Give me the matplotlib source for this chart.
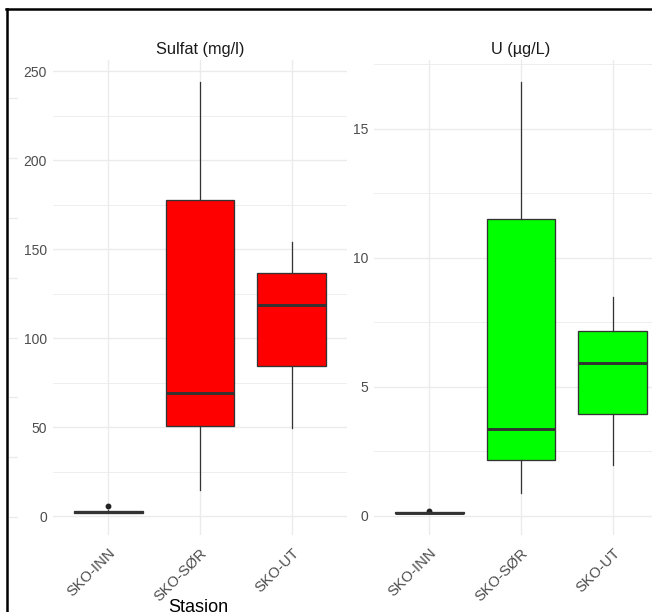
import matplotlib
matplotlib.use("Agg")
import matplotlib.pyplot as plt
from matplotlib.lines import Line2D
from matplotlib.transforms import ScaledTranslation

plt.rcParams['font.family'] = ['Liberation Sans', 'DejaVu Sans']

stations = ["SKO-INN", "SKO-SØR", "SKO-UT"]

# box statistics per station: lower whisker, q1, median, q3, upper whisker
sulfat_whislo = [1.5, 14.5, 49.7]
sulfat_q1 = [1.9, 50.6, 84.2]
sulfat_med = [2.4, 68.9, 118.8]
sulfat_q3 = [3.0, 177.4, 136.3]
sulfat_whishi = [3.5, 244.1, 153.7]
sulfat_fliers = [[5.4], [], []]

u_whislo = [0.10, 0.90, 1.99]
u_q1 = [0.11, 2.15, 3.96]
u_med = [0.13, 3.37, 5.94]
u_q3 = [0.15, 11.52, 7.18]
u_whishi = [0.16, 16.83, 8.47]
u_fliers = [[0.19], [], []]

sulfat_major = [0, 50, 100, 150, 200, 250]
sulfat_minor = [25, 75, 125, 175, 225]
u_major = [0, 5, 10, 15]
u_minor = [2.5, 7.5, 12.5, 17.5]

W, H = 652, 612
fig = plt.figure(figsize=(W / 100, H / 100), dpi=100)
fig.patch.set_facecolor("white")


def make_stats(lo, q1, med, q3, hi, fl):
    return [dict(whislo=lo[i], q1=q1[i], med=med[i], q3=q3[i], whishi=hi[i],
                 fliers=fl[i], label=stations[i]) for i in range(len(stations))]


def draw_panel(ax, stats, color, title, major, minor):
    ax.bxp(stats, positions=[1, 2, 3], widths=0.75, patch_artist=True,
           showcaps=False,
           boxprops=dict(facecolor=color, edgecolor="#333333", linewidth=0.95),
           medianprops=dict(color="#333333", linewidth=2.1, solid_capstyle="butt"),
           whiskerprops=dict(color="#333333", linewidth=0.9),
           flierprops=dict(marker="o", markersize=3.2, markerfacecolor="#222222",
                           markeredgecolor="#222222"),
           zorder=3)
    vals = []
    for s in stats:
        vals += [s["whislo"], s["whishi"]] + list(s["fliers"])
    lo, hi = min(vals), max(vals)
    pad = 0.05 * (hi - lo)
    ax.set_ylim(lo - pad, hi + pad)
    ax.set_xlim(0.4, 3.6)
    ax.set_yticks(major)
    ax.set_yticks(minor, minor=True)
    ax.set_xticks([1, 2, 3])
    ax.set_xticklabels(stations, rotation=45, ha="right", va="top",
                       rotation_mode="anchor")
    for lab in ax.get_xticklabels():
        lab.set_transform(lab.get_transform() +
                          ScaledTranslation(0.04, 0.01, fig.dpi_scale_trans))
    ax.grid(which="major", color="#EBEBEB", linewidth=1.0, zorder=0)
    ax.grid(which="minor", axis="y", color="#EBEBEB", linewidth=0.6, zorder=0)
    ax.set_axisbelow(True)
    for sp in ax.spines.values():
        sp.set_visible(False)
    ax.tick_params(axis="y", which="both", length=0, pad=4.3, labelsize=10,
                   labelcolor="#4D4D4D")
    ax.tick_params(axis="x", length=0, pad=8, labelsize=10.6, labelcolor="#4D4D4D")
    ax.set_title(title, fontsize=11.8, color="#1A1A1A", pad=4)


ax_l = fig.add_axes([53 / W, 77 / H, 294 / W, 475 / H])
ax_r = fig.add_axes([374 / W, 77 / H, 294 / W, 475 / H])

draw_panel(ax_l, make_stats(sulfat_whislo, sulfat_q1, sulfat_med, sulfat_q3,
                            sulfat_whishi, sulfat_fliers),
           "#FF0000", "Sulfat (mg/l)", sulfat_major, sulfat_minor)
draw_panel(ax_r, make_stats(u_whislo, u_q1, u_med, u_q3, u_whishi, u_fliers),
           "#00FF00", "U (µg/L)", u_major, u_minor)

# edge of the neighbouring panel's grid, left of the frame
stub = fig.add_axes([9 / W, 0, 9 / W, 1])
stub.set_ylim(H, 0)
stub.set_yticks([98.3 + 59.83 * k for k in range(8)])
stub.grid(axis="y", color="#EBEBEB", linewidth=0.9)
stub.tick_params(length=0, labelleft=False, labelbottom=False)
for sp in stub.spines.values():
    sp.set_visible(False)
stub.set_xticks([])
stub.patch.set_alpha(0)

fig.text(198 / W, (H - 599) / H, "Stasjon", ha="center", va="top", fontsize=13,
         color="black")

# frame
fig.add_artist(Line2D([6 / W, 1], [1 - 8.5 / H, 1 - 8.5 / H],
                      transform=fig.transFigure, color="black", linewidth=1.8))
fig.add_artist(Line2D([7 / W, 7 / W], [0, 1 - 8.5 / H],
                      transform=fig.transFigure, color="black", linewidth=1.8))

fig.savefig("out.png", dpi=100)
